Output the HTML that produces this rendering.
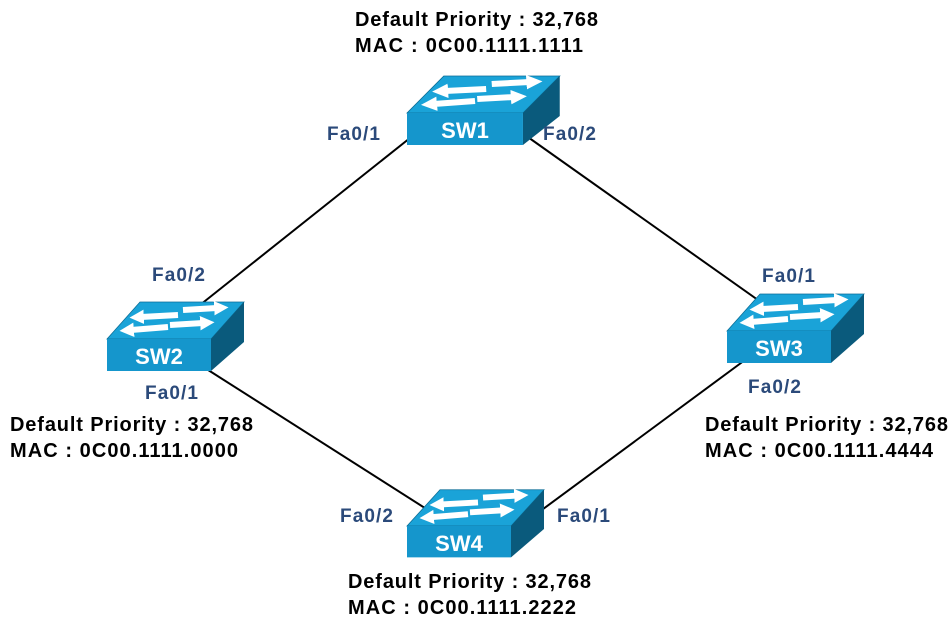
<!DOCTYPE html>
<html><head><meta charset="utf-8"><style>
body{margin:0;background:#fff}
svg{display:block}
.t{font-family:"Liberation Sans","Noto Sans CJK KR",sans-serif;font-weight:bold;font-size:20px;fill:#000}
.f{font-family:"Liberation Sans","Noto Sans CJK KR",sans-serif;font-weight:bold;font-size:19px;fill:#2b4a7a}
.s{font-family:"Liberation Sans",sans-serif;font-weight:bold;font-size:22px;fill:#fff}
</style></head><body>
<svg width="952" height="623" viewBox="0 0 952 623" xmlns="http://www.w3.org/2000/svg">
<defs>
<marker id="ah" viewBox="0 0 10 10" refX="2" refY="5" markerWidth="2.4" markerHeight="2.6" orient="auto"><polygon points="0,0 10,5 0,10" fill="#fff"/></marker>
<g id="sw">
<polygon points="0,0 33,-37 137,-37 104,0" fill="#1aa3d8" stroke="#0c6e96" stroke-width="0.8"/>
<polygon points="104,0 137,-37 137,3 104,32" fill="#0a5a7c"/>
<rect x="0" y="0" width="104" height="32" fill="#1596cc"/>
<g stroke="#fff" stroke-width="6" fill="none" marker-end="url(#ah)">
<line x1="71" y1="-24" x2="34" y2="-22"/>
<line x1="76" y1="-29" x2="110" y2="-31"/>
<line x1="61" y1="-12" x2="24" y2="-9"/>
<line x1="63" y1="-14" x2="96" y2="-16"/>
</g>
</g>
</defs>
<g stroke="#000" stroke-width="2">
<line x1="410" y1="138" x2="200" y2="305"/>
<line x1="525" y1="135" x2="765" y2="305"/>
<line x1="205" y1="368" x2="428" y2="510"/>
<line x1="745" y1="360" x2="535" y2="515"/>
</g>
<g transform="translate(407,113) scale(1.115,1)"><use href="#sw"/></g>
<g transform="translate(107,339)"><use href="#sw"/></g>
<g transform="translate(727,331)"><use href="#sw"/></g>
<g transform="translate(407,526) scale(1,0.98)"><use href="#sw"/></g>
<text class="s" x="465" y="138" text-anchor="middle">SW1</text>
<text class="s" x="159" y="364" text-anchor="middle">SW2</text>
<text class="s" x="779" y="356" text-anchor="middle">SW3</text>
<text class="s" x="459" y="551" text-anchor="middle">SW4</text>
<text class="t" x="355" y="26" textLength="243">Default Priority : 32,768</text>
<text class="t" x="355" y="52" textLength="228">MAC : 0C00.1111.1111</text>
<text class="t" x="10" y="431" textLength="243">Default Priority : 32,768</text>
<text class="t" x="10" y="457" textLength="228">MAC : 0C00.1111.0000</text>
<text class="t" x="705" y="431" textLength="243">Default Priority : 32,768</text>
<text class="t" x="705" y="457" textLength="228">MAC : 0C00.1111.4444</text>
<text class="t" x="348" y="588" textLength="243">Default Priority : 32,768</text>
<text class="t" x="348" y="614" textLength="228">MAC : 0C00.1111.2222</text>
<text class="f" x="327" y="140" textLength="53">Fa0/1</text>
<text class="f" x="543" y="140" textLength="53">Fa0/2</text>
<text class="f" x="152" y="281" textLength="53">Fa0/2</text>
<text class="f" x="145" y="399" textLength="53">Fa0/1</text>
<text class="f" x="762" y="282" textLength="53">Fa0/1</text>
<text class="f" x="748" y="393" textLength="53">Fa0/2</text>
<text class="f" x="340" y="522" textLength="53">Fa0/2</text>
<text class="f" x="557" y="522" textLength="53">Fa0/1</text>
</svg>
</body></html>
